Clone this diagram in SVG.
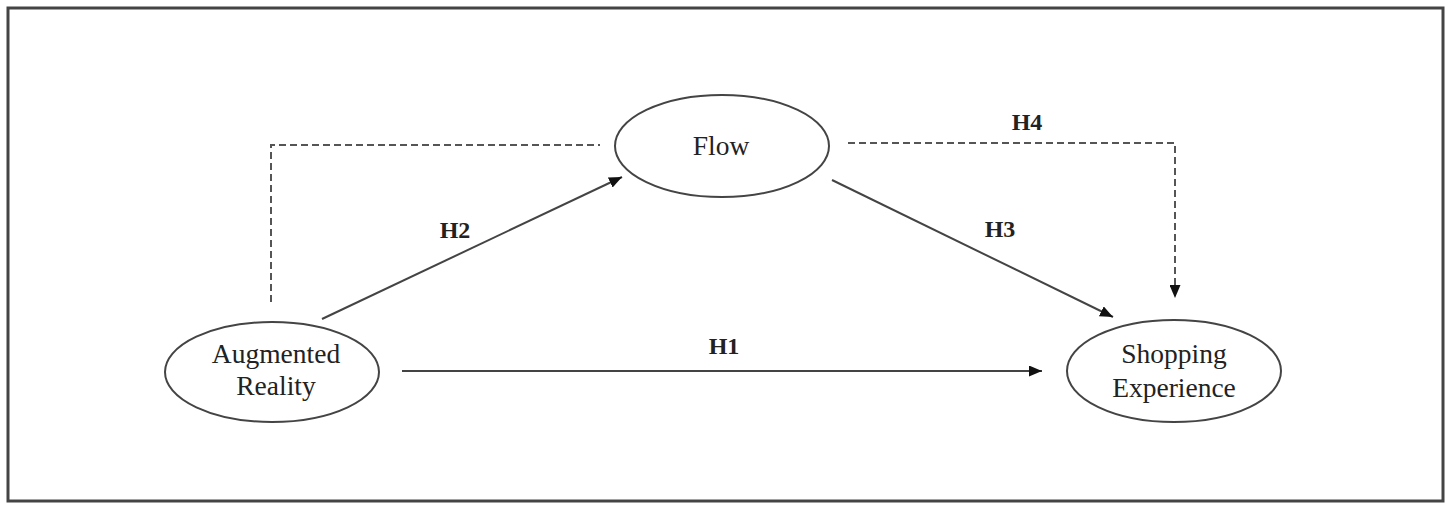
<svg xmlns="http://www.w3.org/2000/svg" width="1454" height="512" viewBox="0 0 1454 512">
<style>
.frame{fill:#fff;stroke:#444;stroke-width:3}
.node ellipse{fill:#fff;stroke:#444;stroke-width:2}
.lbl{font-family:"Liberation Serif","Times New Roman",serif;font-size:27.5px;fill:#222;text-anchor:middle}
.h{font-family:"Liberation Serif","Times New Roman",serif;font-size:24px;font-weight:bold;fill:#222;text-anchor:middle}
.solid{fill:none;stroke:#444;stroke-width:2}
.dash{fill:none;stroke:#555;stroke-width:2;stroke-dasharray:7,4}
</style>
<defs>
<marker id="arr" viewBox="0 0 13 11" refX="13" refY="5.5" markerWidth="13" markerHeight="11" markerUnits="userSpaceOnUse" orient="auto">
<path d="M0,0 L13,5.5 L0,11 Z" fill="#111"/>
</marker>
</defs>
<rect class="frame" x="8" y="8" width="1435" height="493"/>
<g id="connectors">
<line class="solid" x1="402" y1="371" x2="1042" y2="371" marker-end="url(#arr)"/>
<line class="solid" x1="322" y1="319" x2="622" y2="177" marker-end="url(#arr)"/>
<line class="solid" x1="832" y1="180" x2="1113" y2="317" marker-end="url(#arr)"/>
<polyline class="dash" points="271,302 271,145 600,145"/>
<polyline class="dash" points="848,143 1175,143 1175,298" marker-end="url(#arr)"/>
<text class="h" x="455" y="238">H2</text>
<text class="h" x="1000" y="237">H3</text>
<text class="h" x="1027" y="130">H4</text>
<text class="h" x="724" y="354">H1</text>
</g>
<g id="node-ar" class="node">
<ellipse cx="272" cy="372" rx="107" ry="50"/>
<text class="lbl" x="276" y="363">Augmented</text>
<text class="lbl" x="276" y="395">Reality</text>
</g>
<g id="node-flow" class="node">
<ellipse cx="722" cy="146" rx="107" ry="51"/>
<text class="lbl" x="721" y="155">Flow</text>
</g>
<g id="node-se" class="node">
<ellipse cx="1174" cy="371" rx="107" ry="51"/>
<text class="lbl" x="1174" y="363">Shopping</text>
<text class="lbl" x="1174" y="397">Experience</text>
</g>
</svg>
